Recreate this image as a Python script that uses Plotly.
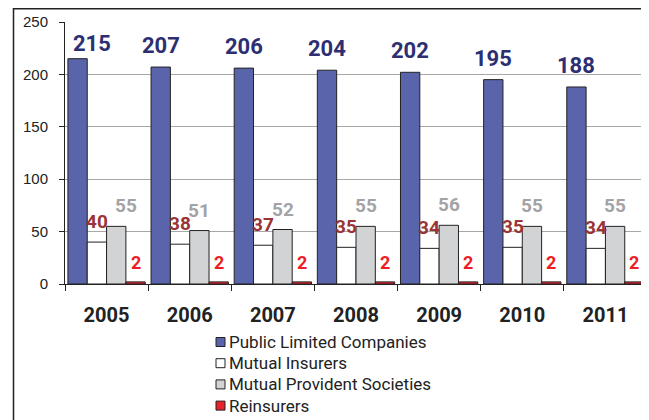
import plotly.graph_objects as go

years = ["2005", "2006", "2007", "2008", "2009", "2010", "2011"]
public_limited = [215, 207, 206, 204, 202, 195, 188]
mutual_insurers = [40, 38, 37, 35, 34, 35, 34]
mutual_provident = [55, 51, 52, 55, 56, 55, 55]
reinsurers = [2, 2, 2, 2, 2, 2, 2]

series = [
    ("Public Limited Companies", public_limited, "#5a64aa", "#2d2f72", 22),
    ("Mutual Insurers", mutual_insurers, "#ffffff", "#9a3436", 19),
    ("Mutual Provident Societies", mutual_provident, "#d2d3d5", "#a3a3a5", 19),
    ("Reinsurers", reinsurers, "#e8212b", "#ee1c25", 18),
]

# the page puts the figure 8px in from the top-left corner
OFF = 8
W, H = 649, 420
ML, MT = 65 - OFF, 22 - OFF
MR, MB = W - (647 - OFF), H - (284 - OFF)
PW, PH = W - ML - MR, H - MT - MB
BARGAP = 0.07
cat_px = PW / len(years)
bar_px = cat_px * (1 - BARGAP) / len(series)


def px_x(p):
    return (p - OFF - ML) / PW


def px_y(p):
    return (H - MB - (p - OFF)) / PH


fig = go.Figure()
for name, vals, fill, _, _ in series:
    fig.add_trace(go.Bar(
        x=years, y=vals, name=name,
        marker=dict(color=fill, line=dict(color="#222222", width=1)),
        hoverinfo="skip", showlegend=False,
    ))

# data labels above each bar (x given as category index)
for k, (name, vals, fill, txtcol, fsize) in enumerate(series):
    off = (k - (len(series) - 1) / 2) * bar_px
    for i, v in enumerate(vals):
        dx, dy = 0, 7
        if i == 0 and k == 0:
            dx, dy = 14, 1
        if i == 0 and k == 2:
            dx = 10
        fig.add_annotation(
            x=i, y=v, text=str(v), showarrow=False,
            xanchor="center", yanchor="bottom",
            xshift=off + dx, yshift=dy,
            font=dict(family="Roboto", size=fsize, color=txtcol, weight="bold"),
        )

# hand-drawn legend below the axis (tight row spacing like the original)
for k, (name, vals, fill, _, _) in enumerate(series):
    yc = 342 + k * 21.2
    fig.add_shape(
        type="rect", xref="paper", yref="paper",
        x0=px_x(216), x1=px_x(225), y0=px_y(yc + 4.5), y1=px_y(yc - 4.5),
        fillcolor=fill, line=dict(color="#222222", width=1),
    )
    fig.add_annotation(
        xref="paper", yref="paper", x=px_x(227), y=px_y(yc),
        xanchor="left", yanchor="middle", text=name, showarrow=False,
        font=dict(family="Roboto", size=17, color="#222222"),
    )

# outer frame
fig.add_shape(
    type="rect", xref="paper", yref="paper",
    x0=px_x(13.5), x1=px_x(W + 20), y0=px_y(H + 20), y1=px_y(8.75),
    line=dict(color="#222222", width=1.5), layer="below",
)

fig.update_layout(
    width=W, height=H,
    margin=dict(l=ML, r=MR, t=MT, b=MB),
    paper_bgcolor="white", plot_bgcolor="white",
    barmode="group", bargap=BARGAP, bargroupgap=0,
    showlegend=False,
    xaxis=dict(
        type="category", categoryorder="array", categoryarray=years,
        range=[-0.5, len(years) - 0.5], automargin=False,
        showline=True, linecolor="#222222", linewidth=1,
        ticks="outside", tickson="boundaries", ticklen=6, tickcolor="#222222",
        tickfont=dict(family="Roboto", size=20, color="#222222", weight="bold"),
        ticklabelstandoff=13, showgrid=False, tickangle=0,
    ),
    yaxis=dict(
        range=[0, 250], dtick=50, showline=True, linecolor="#222222", linewidth=1,
        ticks="outside", ticklen=5, tickcolor="#222222", automargin=False,
        gridcolor="#a8a8a8", gridwidth=1, zeroline=False,
        tickfont=dict(family="Liberation Sans", size=15, color="#222222"),
        ticklabelstandoff=8,
    ),
)

fig.write_html("out.html")
